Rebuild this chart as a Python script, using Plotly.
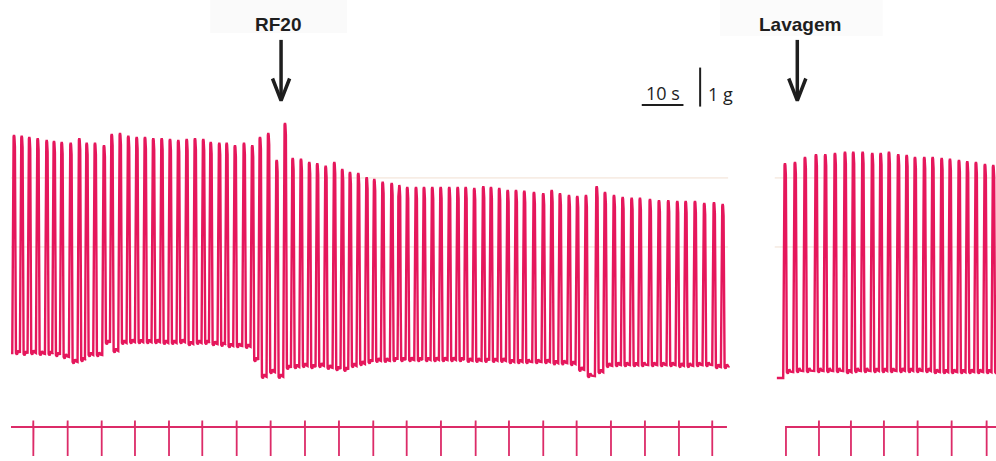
import plotly.graph_objects as go

# ---------------------------------------------------------------
# Isometric force recording (time in s, force in g)
# ---------------------------------------------------------------

# Recording 1: control contractions, then RF20 added
beat_t_1 = [3.36, 5.20, 7.03, 9.04, 11.20, 12.95, 14.80, 16.95, 19.02, 20.79,
            22.78, 24.94, 26.79, 28.78, 30.77, 32.78, 34.77, 36.76, 38.78, 40.77,
            42.76, 44.77, 46.76, 48.75, 50.53, 52.59, 54.36, 56.35, 58.51, 60.50,
            62.35, 64.34, 66.35, 68.34, 70.19, 72.18, 74.17, 76.09, 78.10, 80.17,
            82.08, 83.93, 85.92, 87.93, 89.76, 91.77, 93.93, 95.75, 97.67, 99.76,
            101.68, 103.67, 105.68, 107.74, 109.76, 111.68, 113.74, 115.90, 117.74, 119.73,
            121.75, 123.74, 125.73, 128.05, 130.28, 132.30, 134.29, 136.45, 138.44, 140.52,
            143.09, 145.08, 147.24, 149.32, 151.48, 153.47, 155.87, 158.03, 160.26, 162.42,
            164.43, 166.66, 168.89, 171.22, 173.30]
peak_g_1 = [5.64, 5.62, 5.59, 5.56, 5.51, 5.49, 5.46, 5.44, 5.56, 5.44,
            5.44, 5.38, 5.67, 5.69, 5.62, 5.59, 5.59, 5.56, 5.56, 5.54,
            5.51, 5.54, 5.56, 5.54, 5.46, 5.44, 5.44, 5.38, 5.44, 5.38,
            5.59, 5.69, 5.00, 5.95, 5.05, 5.03, 4.95, 4.92, 4.85, 4.95,
            4.77, 4.69, 4.67, 4.56, 4.51, 4.44, 4.41, 4.36, 4.31, 4.31,
            4.31, 4.31, 4.31, 4.31, 4.31, 4.31, 4.28, 4.33, 4.31, 4.28,
            4.23, 4.23, 4.21, 4.18, 4.15, 4.23, 4.15, 4.10, 4.08, 4.10,
            4.33, 4.18, 4.10, 4.05, 4.03, 4.03, 4.00, 3.97, 3.97, 3.95,
            3.95, 3.95, 3.90, 3.92, 3.87]
base_g_1 = [0.05, 0.05, 0.03, 0.05, 0.03, 0.03, 0.00, -0.05, -0.18, -0.13,
            0.00, 0.00, 0.31, 0.10, 0.31, 0.33, 0.33, 0.33, 0.33, 0.31,
            0.31, 0.33, 0.28, 0.31, 0.31, 0.28, 0.26, 0.23, 0.23, 0.21,
            -0.13, -0.56, -0.44, -0.56, -0.33, -0.31, -0.28, -0.31, -0.28, -0.33,
            -0.36, -0.38, -0.28, -0.23, -0.18, -0.15, -0.15, -0.13, -0.13, -0.13,
            -0.13, -0.13, -0.13, -0.13, -0.13, -0.13, -0.15, -0.15, -0.15, -0.15,
            -0.15, -0.18, -0.18, -0.18, -0.18, -0.18, -0.21, -0.21, -0.23, -0.38,
            -0.54, -0.44, -0.28, -0.26, -0.26, -0.26, -0.26, -0.26, -0.26, -0.26,
            -0.28, -0.28, -0.26, -0.26, -0.31]
span_1 = [2.64, 174.6]
end_g_1 = -0.31

# Recording 2: after washout
beat_t_2 = [188.24, 190.64, 193.04, 195.68, 197.91, 200.23, 202.63, 204.62, 206.87, 209.18,
            211.19, 213.18, 215.41, 217.43, 219.42, 221.65, 223.66, 225.82, 227.81, 229.97,
            231.96, 234.04, 236.20, 238.19]
peak_g_2 = [4.92, 4.95, 5.08, 5.15, 5.15, 5.18, 5.21, 5.21, 5.21, 5.18,
            5.18, 5.21, 5.15, 5.13, 5.08, 5.08, 5.08, 5.05, 5.03, 5.00,
            4.97, 4.95, 4.90, 4.87]
base_g_2 = [-0.59, -0.44, -0.41, -0.41, -0.41, -0.41, -0.41, -0.44, -0.41, -0.41,
            -0.41, -0.41, -0.41, -0.41, -0.41, -0.41, -0.41, -0.44, -0.44, -0.44,
            -0.44, -0.44, -0.44, -0.44]
span_2 = [186.3, 240.0]
end_g_2 = -0.44

# Stimulus / time-marker channel
stim_t_1 = [7.99, 16.23, 24.39, 32.37, 40.53, 48.51, 56.76, 64.91, 73.14, 81.29,
            89.52, 97.53, 105.75, 114.07, 122.06, 130.28, 138.29, 146.52, 154.67, 162.82,
            170.81]
stim_t_2 = [196.40, 204.07, 211.98, 220.06, 228.22, 236.61]
stim_span_1 = [2.64, 174.33]
stim_span_2 = [188.48, 240.0]

# Drug events
event_labels = ["RF20", "Lavagem"]
event_t = [67.4, 191.2]
label_t = [66.6, 191.9]

# Calibration bars
bar_time_s = 10
bar_force_g = 1

PEN = "#E5175C"
STIM = "#DC2B68"
INK = "#1E1E1E"

X_RANGE = [0, 238.85]
Y_RANGE = [-2.718, 9.103]


def twitch_trace(span, beats, peaks, bases, end_level):
    """Build a pen trace: sharp twitch for each beat, small ripple on the baseline."""
    xs, ys = [span[0]], [bases[0]]
    n = len(beats)
    for i in range(n):
        tp, p, b = beats[i], peaks[i], bases[i]
        nb = bases[i + 1] if i + 1 < n else end_level
        amp_up, amp_dn = p - b, p - nb
        xs += [tp - 0.42, tp - 0.31, tp - 0.22, tp - 0.10, tp,
               tp + 0.10, tp + 0.22, tp + 0.33, tp + 0.46,
               tp + 0.70, tp + 1.05, tp + 1.40]
        ys += [b, b + 0.35 * amp_up, p - 0.30, p - 0.05, p,
               p - 0.05, p - 0.30, nb + 0.35 * amp_dn, nb,
               nb - 0.04, nb + 0.07, nb + 0.01]
    xs.append(span[1])
    ys.append(end_level)
    return xs, ys


def stim_trace(span, ticks, lead_tick=False):
    xs, ys = [], []
    if lead_tick:
        xs += [span[0], span[0]]
        ys += [-1.0, 0.0]
    else:
        xs.append(span[0])
        ys.append(0.0)
    for ts in ticks:
        xs += [ts - 0.05, ts, ts, ts, ts + 0.05]
        ys += [0.0, 0.22, -1.0, 0.0, 0.0]
    xs.append(span[1])
    ys.append(0.0)
    return xs, ys


fig = go.Figure()

for span, bt, pk, bs, end in [(span_1, beat_t_1, peak_g_1, base_g_1, end_g_1),
                              (span_2, beat_t_2, peak_g_2, base_g_2, end_g_2)]:
    x, y = twitch_trace(span, bt, pk, bs, end)
    fig.add_trace(go.Scatter(x=x, y=y, mode="lines",
                             line=dict(color=PEN, width=2.4),
                             hoverinfo="skip"))

for span, ticks, lead in [(stim_span_1, stim_t_1, False), (stim_span_2, stim_t_2, True)]:
    x, y = stim_trace(span, ticks, lead)
    fig.add_trace(go.Scatter(x=x, y=y, mode="lines", yaxis="y2",
                             line=dict(color=STIM, width=1.8),
                             hoverinfo="skip"))

# Event arrows
for t in event_t:
    fig.add_trace(go.Scatter(x=[t, t], y=[8.08, 6.58], mode="lines",
                             line=dict(color=INK, width=3.5), hoverinfo="skip"))
    fig.add_trace(go.Scatter(x=[t - 2.05, t, t + 2.05], y=[7.09, 6.52, 7.09], mode="lines",
                             line=dict(color=INK, width=3.5), hoverinfo="skip"))

# Calibration bars: 10 s and 1 g
bar_x0 = 153.9
fig.add_trace(go.Scatter(x=[bar_x0, bar_x0 + bar_time_s], y=[6.41, 6.41], mode="lines",
                         line=dict(color=INK, width=2), hoverinfo="skip"))
fig.add_trace(go.Scatter(x=[167.9, 167.9], y=[6.37, 6.37 + bar_force_g], mode="lines",
                         line=dict(color=INK, width=2), hoverinfo="skip"))

# Chart-paper rulings and label panels (drawn behind the traces)
shapes = []
for span in (span_1, [span_2[0] - 0.5, X_RANGE[1]]):
    for yl in (4.54, 2.77):
        shapes.append(dict(type="line", xref="x", yref="y", x0=span[0], x1=span[1],
                           y0=yl, y1=yl, layer="below",
                           line=dict(color="rgba(214,165,125,0.35)", width=1)))
shapes.append(dict(type="rect", xref="x", yref="y", x0=50.4, x1=83.2, y0=8.26, y1=9.2,
                   fillcolor="#FAFAFA", line=dict(width=0), layer="below"))
shapes.append(dict(type="rect", xref="x", yref="y", x0=172.7, x1=211.7, y0=8.18, y1=9.2,
                   fillcolor="#FBFBFB", line=dict(width=0), layer="below"))

annotations = []
for lbl, t in zip(event_labels, label_t):
    annotations.append(dict(x=t, y=8.47, xref="x", yref="y", text=f"<b>{lbl}</b>",
                            showarrow=False, xanchor="center", yanchor="middle",
                            font=dict(family="Liberation Sans", size=19, color=INK)))
annotations.append(dict(x=bar_x0 + bar_time_s / 2, y=6.72, xref="x", yref="y",
                        text=f"{bar_time_s} s", showarrow=False, xanchor="center",
                        yanchor="middle",
                        font=dict(family="Open Sans", size=18, color=INK)))
annotations.append(dict(x=169.2, y=6.70, xref="x", yref="y", text=f"{bar_force_g} g",
                        showarrow=False, xanchor="left", yanchor="middle",
                        font=dict(family="Open Sans", size=18, color=INK)))

fig.update_layout(
    width=996, height=461,
    margin=dict(l=0, r=0, t=0, b=0),
    paper_bgcolor="white", plot_bgcolor="white",
    showlegend=False,
    xaxis=dict(range=X_RANGE, visible=False, fixedrange=True),
    yaxis=dict(range=Y_RANGE, visible=False, domain=[0, 1], fixedrange=True),
    yaxis2=dict(range=[-1.172, 1.371], visible=False, domain=[0, 0.16],
                anchor="x", fixedrange=True),
    shapes=shapes,
    annotations=annotations,
)

fig.write_html("out.html")
